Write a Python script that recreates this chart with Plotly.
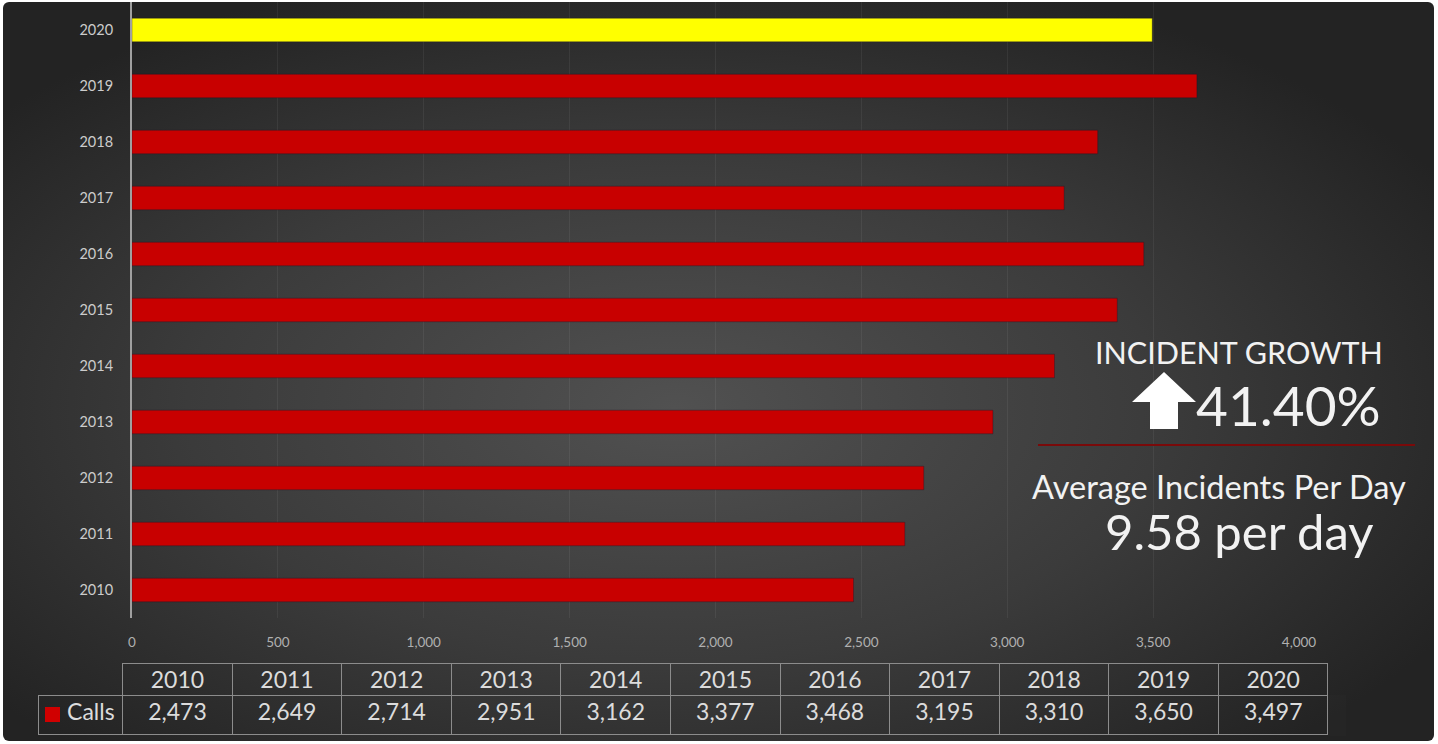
import base64
import plotly.graph_objects as go

years = ["2010", "2011", "2012", "2013", "2014", "2015", "2016", "2017", "2018", "2019", "2020"]
calls = [2473, 2649, 2714, 2951, 3162, 3377, 3468, 3195, 3310, 3650, 3497]
bar_colors = ["#c80000"] * 10 + ["#ffff00"]
x_ticks = [0, 500, 1000, 1500, 2000, 2500, 3000, 3500, 4000]
growth_title = "INCIDENT GROWTH"
growth_value = "41.40%"
avg_title = "Average Incidents Per Day"
avg_value = "9.58 per day"
series_name = "Calls"

W, H = 1438, 744
FONT = "Lato"

svg = f'''<svg xmlns="http://www.w3.org/2000/svg" width="{W}" height="{H}" viewBox="0 0 {W} {H}" preserveAspectRatio="none">
<defs><radialGradient id="g" cx="0.47" cy="0.55" r="0.62">
<stop offset="0" stop-color="#515151"/><stop offset="0.55" stop-color="#3b3b3b"/><stop offset="1" stop-color="#232323"/>
</radialGradient></defs>
<rect x="0" y="0" width="{W}" height="{H}" rx="6" fill="url(#g)"/></svg>'''
bg_uri = "data:image/svg+xml;base64," + base64.b64encode(svg.encode()).decode()

def px(x):
    return x / W

def py(y):
    return 1 - y / H

fig = go.Figure()
fig.add_trace(go.Bar(
    y=years, x=calls, orientation="h",
    marker=dict(color=bar_colors, line=dict(color="rgba(30,20,40,0.35)", width=1)),
    name=series_name, showlegend=False, hoverinfo="x+y",
))

header_vals = [""] + years
cell_vals = [[series_name]] + [[f"{v:,}"] for v in calls]
line_cols = ["rgba(0,0,0,0)"] + ["#8c8c8c"] * len(years)
fig.add_trace(go.Table(
    domain=dict(x=[px(38), px(1328)], y=[py(736), py(663)]),
    columnwidth=[85] + [110] * len(years),
    header=dict(values=header_vals, height=32, align="center",
                fill=dict(color="rgba(0,0,0,0)"),
                line=dict(color=line_cols, width=1),
                font=dict(family=FONT, size=23, color="#dcdcdc")),
    cells=dict(values=cell_vals, height=39, align=["right"] + ["center"] * len(years),
               fill=dict(color="rgba(0,0,0,0)"),
               line=dict(color="#8c8c8c", width=1),
               font=dict(family=FONT, size=23, color="#dcdcdc")),
))

shapes = [
    # legend key for the table's series
    dict(type="rect", xref="paper", yref="paper", x0=px(45), x1=px(60), y0=py(722), y1=py(707),
         fillcolor="#d00000", line=dict(width=0)),
    # divider line under growth figure
    dict(type="line", xref="paper", yref="paper", x0=px(1038), x1=px(1415), y0=py(445), y1=py(445),
         line=dict(color="#7a0a0a", width=2)),
    # up arrow
    dict(type="path", xref="paper", yref="paper",
         path=(f"M {px(1132)},{py(402)} L {px(1164)},{py(372)} L {px(1196)},{py(402)} "
               f"L {px(1178)},{py(402)} L {px(1178)},{py(429)} L {px(1150)},{py(429)} "
               f"L {px(1150)},{py(402)} Z"),
         fillcolor="white", line=dict(width=0)),
]

annotations = [
    dict(text=growth_title, x=px(1239), y=py(352), xref="paper", yref="paper", showarrow=False,
         font=dict(family=FONT, size=30.5, color="#f2f2f2"), xanchor="center", yanchor="middle"),
    dict(text=growth_value, x=px(1383), y=py(405), xref="paper", yref="paper", showarrow=False,
         font=dict(family=FONT, size=55, color="#f2f2f2"), xanchor="right", yanchor="middle"),
    dict(text=avg_title, x=px(1219), y=py(486), xref="paper", yref="paper", showarrow=False,
         font=dict(family=FONT, size=32.5, color="#f2f2f2"), xanchor="center", yanchor="middle"),
    dict(text=avg_value, x=px(1239), y=py(531), xref="paper", yref="paper", showarrow=False,
         font=dict(family=FONT, size=49, color="#f2f2f2"), xanchor="center", yanchor="middle"),
]

fig.update_layout(
    width=W, height=H, autosize=False,
    showlegend=False,
    margin=dict(l=0, r=0, t=0, b=0, pad=0),
    paper_bgcolor="white",
    plot_bgcolor="rgba(0,0,0,0)",
    bargap=0.58,
    images=[dict(source=bg_uri, xref="paper", yref="paper", x=px(3), y=py(2),
                 sizex=px(1431), sizey=(741 - 2) / H, xanchor="left", yanchor="top",
                 sizing="stretch", layer="below")],
    shapes=shapes,
    annotations=annotations,
    xaxis=dict(domain=[px(132), px(1299)], range=[0, 4000], tickvals=x_ticks,
               tickformat=",d", showgrid=True, gridcolor="rgba(255,255,255,0.06)", gridwidth=1,
               zeroline=False, showline=False, ticks="", ticklabelstandoff=14, automargin=False,
               tickfont=dict(family=FONT, size=13.5, color="#b0b0b0")),
    yaxis=dict(domain=[py(618), py(2)], categoryorder="array", categoryarray=years,
               showgrid=False, zeroline=False, showline=True, linecolor="#a0a0a0", linewidth=2,
               ticks="", ticklabelstandoff=14, automargin=False,
               tickfont=dict(family=FONT, size=14.5, color="#cccccc")),
    font=dict(family=FONT),
)

fig.write_html(
    "out.html",
    config={"responsive": False},
    default_width="1438px",
    default_height="744px",
    post_script="document.body.style.margin='0';document.body.style.overflow='hidden';",
)
